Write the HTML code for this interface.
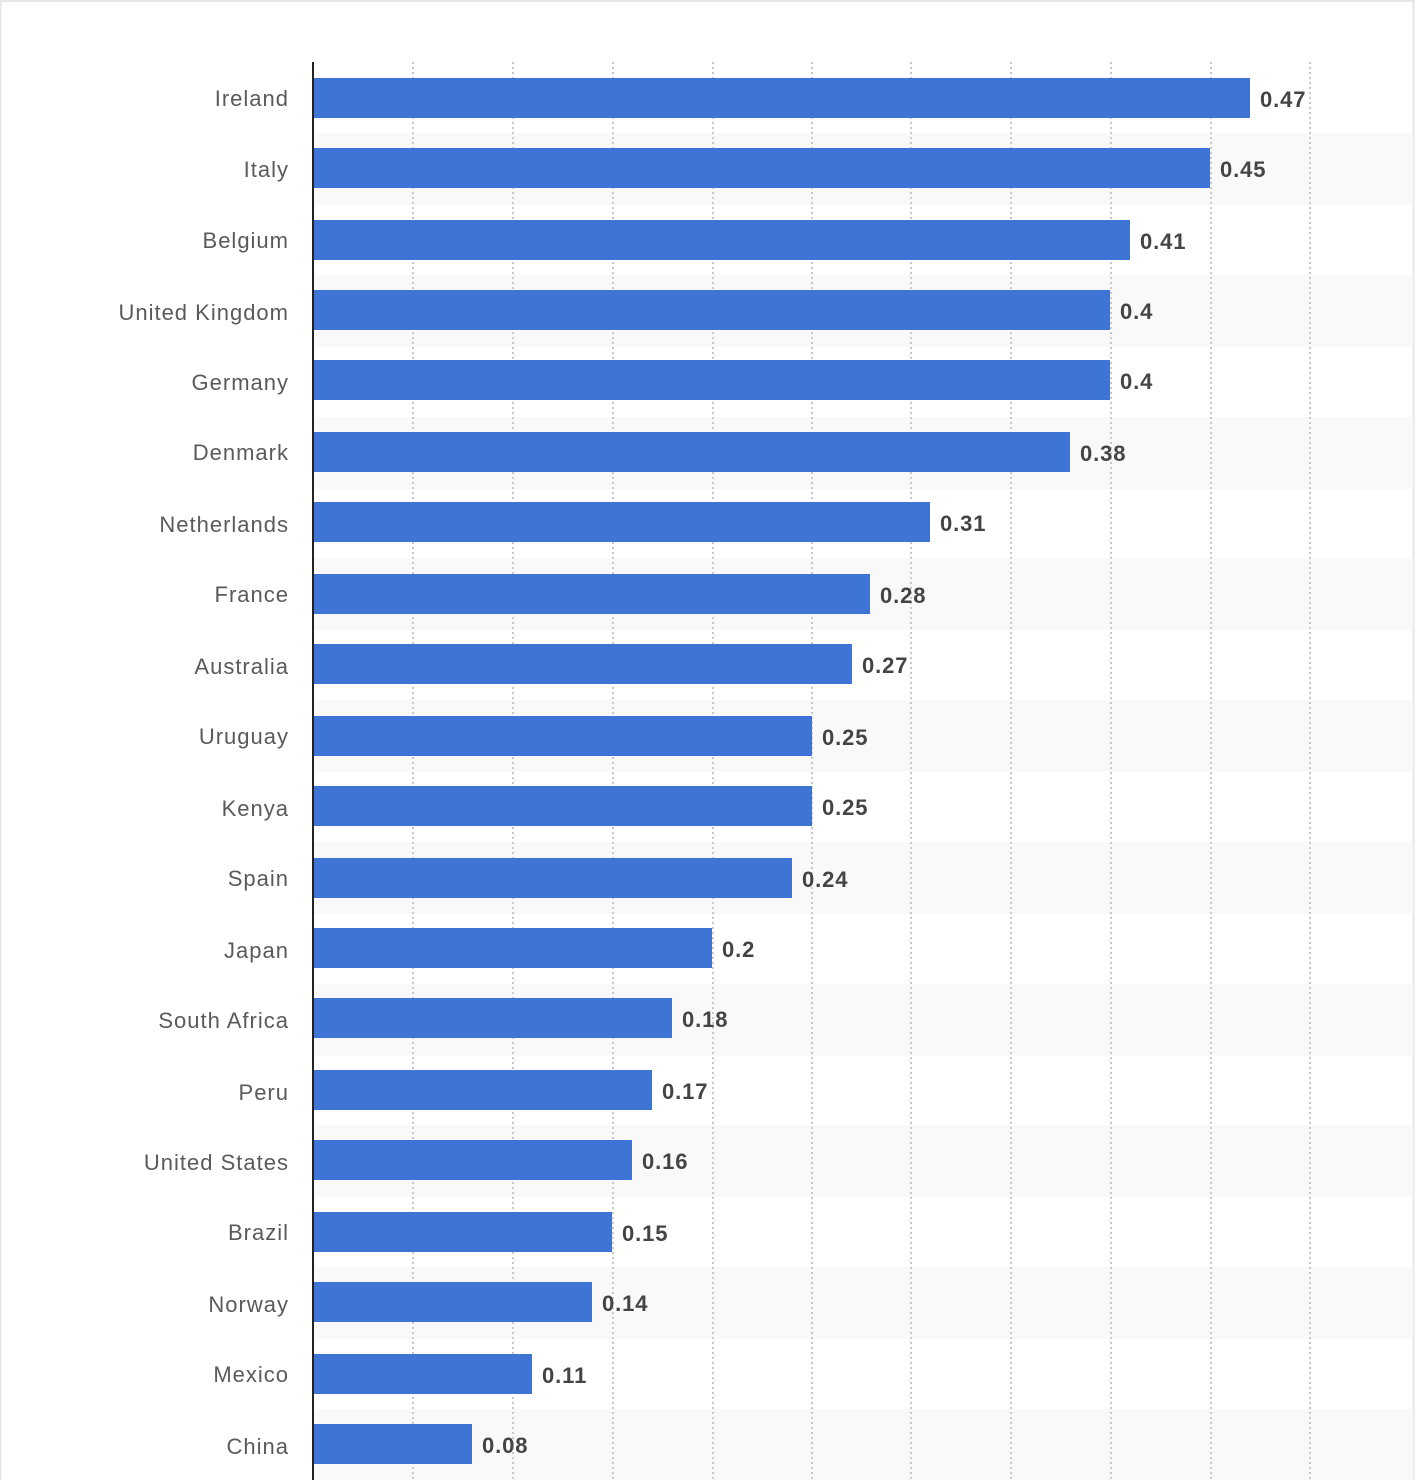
<!DOCTYPE html>
<html><head><meta charset="utf-8"><style>
html,body{margin:0;padding:0;background:#fff;}
svg{display:block;}
</style></head><body>
<svg width="1416" height="1480" xmlns="http://www.w3.org/2000/svg">
<rect x="0.5" y="1" width="1413" height="1485" fill="#fff" stroke="#e6e6e6" stroke-width="2"/>
<g id="bands" fill="#f9f9f9">
<rect x="314" y="133" width="1099" height="72"/>
<rect x="314" y="275" width="1099" height="72"/>
<rect x="314" y="417" width="1099" height="72"/>
<rect x="314" y="558" width="1099" height="72"/>
<rect x="314" y="700" width="1099" height="72"/>
<rect x="314" y="842" width="1099" height="72"/>
<rect x="314" y="984" width="1099" height="72"/>
<rect x="314" y="1125" width="1099" height="72"/>
<rect x="314" y="1267" width="1099" height="72"/>
<rect x="314" y="1409" width="1099" height="72"/>
</g>
<g stroke="#c8c8c8" stroke-width="2" stroke-dasharray="2,3">
<line x1="413" y1="62" x2="413" y2="1480"/>
<line x1="513" y1="62" x2="513" y2="1480"/>
<line x1="613" y1="62" x2="613" y2="1480"/>
<line x1="713" y1="62" x2="713" y2="1480"/>
<line x1="812" y1="62" x2="812" y2="1480"/>
<line x1="911" y1="62" x2="911" y2="1480"/>
<line x1="1011" y1="62" x2="1011" y2="1480"/>
<line x1="1111" y1="62" x2="1111" y2="1480"/>
<line x1="1211" y1="62" x2="1211" y2="1480"/>
<line x1="1310" y1="62" x2="1310" y2="1480"/>
</g>
<g fill="#3d74d6">
<rect x="313" y="78" width="937" height="40"/>
<rect x="313" y="148" width="897" height="40"/>
<rect x="313" y="220" width="817" height="40"/>
<rect x="313" y="290" width="797" height="40"/>
<rect x="313" y="360" width="797" height="40"/>
<rect x="313" y="432" width="757" height="40"/>
<rect x="313" y="502" width="617" height="40"/>
<rect x="313" y="574" width="557" height="40"/>
<rect x="313" y="644" width="539" height="40"/>
<rect x="313" y="716" width="499" height="40"/>
<rect x="313" y="786" width="499" height="40"/>
<rect x="313" y="858" width="479" height="40"/>
<rect x="313" y="928" width="399" height="40"/>
<rect x="313" y="998" width="359" height="40"/>
<rect x="313" y="1070" width="339" height="40"/>
<rect x="313" y="1140" width="319" height="40"/>
<rect x="313" y="1212" width="299" height="40"/>
<rect x="313" y="1282" width="279" height="40"/>
<rect x="313" y="1354" width="219" height="40"/>
<rect x="313" y="1424" width="159" height="40"/>
</g>
<line x1="313" y1="62" x2="313" y2="1480" stroke="#222" stroke-width="2"/>
<g font-family="Liberation Sans, DejaVu Sans, sans-serif" font-size="22" fill="#5a5a5a" text-anchor="end" letter-spacing="1">
<text x="289" y="106">Ireland</text>
<text x="289" y="177">Italy</text>
<text x="289" y="248">Belgium</text>
<text x="289" y="320">United Kingdom</text>
<text x="289" y="390">Germany</text>
<text x="289" y="460">Denmark</text>
<text x="289" y="532">Netherlands</text>
<text x="289" y="602">France</text>
<text x="289" y="674">Australia</text>
<text x="289" y="744">Uruguay</text>
<text x="289" y="816">Kenya</text>
<text x="289" y="886">Spain</text>
<text x="289" y="958">Japan</text>
<text x="289" y="1028">South Africa</text>
<text x="289" y="1100">Peru</text>
<text x="289" y="1170">United States</text>
<text x="289" y="1240">Brazil</text>
<text x="289" y="1312">Norway</text>
<text x="289" y="1382">Mexico</text>
<text x="289" y="1454">China</text>
</g>
<g font-family="Liberation Sans, DejaVu Sans, sans-serif" font-size="22" font-weight="bold" fill="#444" letter-spacing="0.9">
<text x="1260" y="107">0.47</text>
<text x="1220" y="177">0.45</text>
<text x="1140" y="249">0.41</text>
<text x="1120" y="319">0.4</text>
<text x="1120" y="389">0.4</text>
<text x="1080" y="461">0.38</text>
<text x="940" y="531">0.31</text>
<text x="880" y="603">0.28</text>
<text x="862" y="673">0.27</text>
<text x="822" y="745">0.25</text>
<text x="822" y="815">0.25</text>
<text x="802" y="887">0.24</text>
<text x="722" y="957">0.2</text>
<text x="682" y="1027">0.18</text>
<text x="662" y="1099">0.17</text>
<text x="642" y="1169">0.16</text>
<text x="622" y="1241">0.15</text>
<text x="602" y="1311">0.14</text>
<text x="542" y="1383">0.11</text>
<text x="482" y="1453">0.08</text>
</g>
</svg>
</body></html>
